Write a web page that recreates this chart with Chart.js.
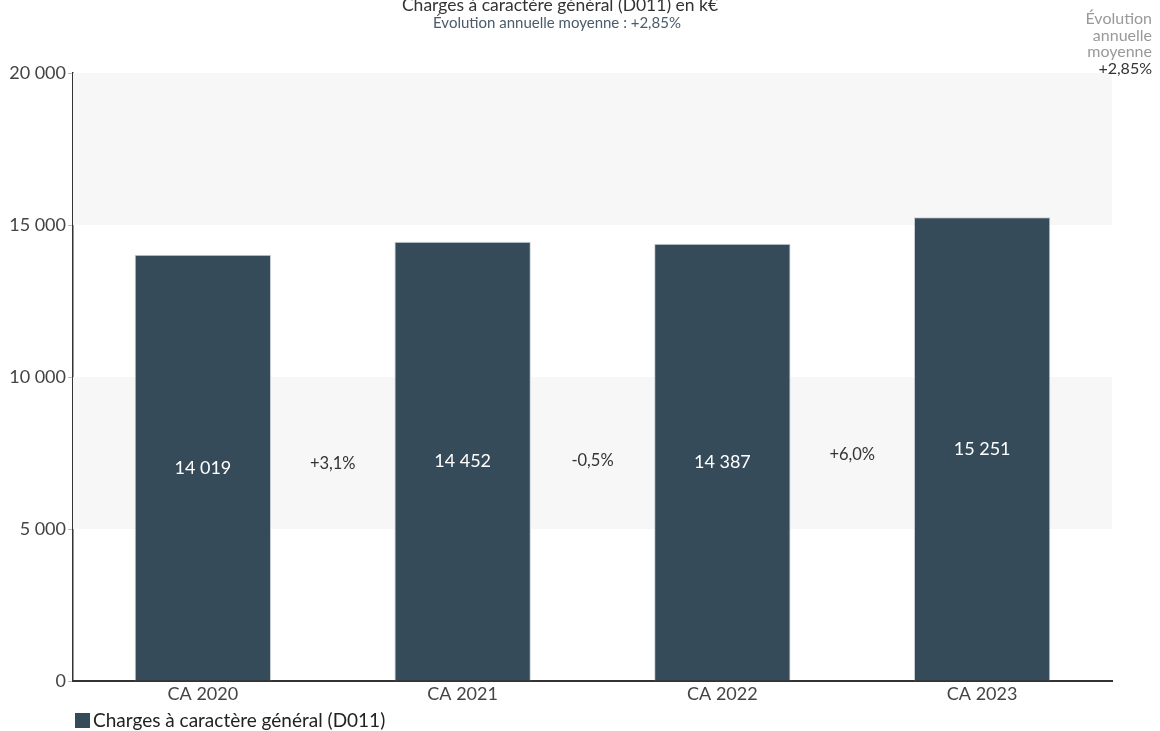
<!DOCTYPE html>
<html lang="fr">
<head>
<meta charset="utf-8">
<title>Charges à caractère général (D011)</title>
<script src="https://cdn.jsdelivr.net/npm/chart.js@4/dist/chart.umd.min.js"></script>
<style>
  html, body { margin: 0; padding: 0; background: #fff; }
  #wrap { position: relative; width: 1160px; height: 731px; }
</style>
</head>
<body>
<div id="wrap"><canvas id="chart" width="1160" height="731"></canvas></div>
<script>
// Exercices et montants (k€)
const categories = ['CA 2020', 'CA 2021', 'CA 2022', 'CA 2023'];
const seriesName = 'Charges à caractère général (D011)';
const values = [14019, 14452, 14387, 15251];
const changeLabels = ['+3,1%', '-0,5%', '+6,0%'];
const avgLabel = '+2,85%';
const yTicks = [0, 5000, 10000, 15000, 20000];

const titleText = 'Charges à caractère général (D011) en k€';
const subtitleText = 'Évolution annuelle moyenne : ' + avgLabel;
const FONT = 'Lato, "Noto Sans", sans-serif';
const BAR_COLOR = '#364b5a';

// Formatage français : espace comme séparateur de milliers
const fmtInt = v => String(Math.round(v)).replace(/\B(?=(\d{3})+(?!\d))/g, ' ');

// Bandes grises alternées derrière les barres
const bandsPlugin = {
  id: 'bands',
  beforeDatasetsDraw(chart) {
    const { ctx, chartArea: a, scales: { y } } = chart;
    ctx.save();
    ctx.fillStyle = '#f7f7f7';
    [[15000, 20000], [5000, 10000]].forEach(([lo, hi]) => {
      const top = y.getPixelForValue(hi), bot = y.getPixelForValue(lo);
      ctx.fillRect(a.left, top, a.right - a.left, bot - top);
    });
    ctx.restore();
  }
};

// Titres, étiquettes de valeurs, variations et légende
const annotPlugin = {
  id: 'annot',
  afterDraw(chart) {
    const { ctx, scales: { y } } = chart;
    const meta = chart.getDatasetMeta(0);
    ctx.save();
    ctx.textBaseline = 'middle';

    // Titre et sous-titre
    ctx.textAlign = 'center';
    ctx.fillStyle = '#333';
    ctx.font = '17.5px ' + FONT;
    ctx.fillText(titleText, 560, 5);
    ctx.fillStyle = '#4a5b6b';
    ctx.font = '15px ' + FONT;
    ctx.fillText(subtitleText, 557, 23);

    // Bloc en haut à droite
    ctx.textAlign = 'right';
    ctx.font = '16px ' + FONT;
    ctx.fillStyle = '#999';
    ['Évolution', 'annuelle', 'moyenne'].forEach((t, i) => ctx.fillText(t, 1152, 19 + i * 16.5));
    ctx.fillStyle = '#333';
    ctx.fillText(avgLabel, 1152, 69);

    // Valeurs au centre des barres
    const mids = meta.data.map((bar, i) => (y.getPixelForValue(values[i]) + y.getPixelForValue(0)) / 2);
    ctx.textAlign = 'center';
    ctx.font = '18px ' + FONT;
    ctx.fillStyle = '#fff';
    meta.data.forEach((bar, i) => ctx.fillText(fmtInt(values[i]), bar.x, mids[i]));

    // Variations entre barres
    ctx.fillStyle = '#333';
    ctx.font = '16.5px ' + FONT;
    changeLabels.forEach((lbl, i) => {
      const x = (meta.data[i].x + meta.data[i + 1].x) / 2;
      const yy = (mids[i] + mids[i + 1]) / 2 - 1;
      ctx.fillText(lbl, x, yy);
    });

    // Légende
    ctx.fillStyle = BAR_COLOR;
    ctx.fillRect(75, 713, 15, 15);
    ctx.textAlign = 'left';
    ctx.fillStyle = '#222';
    ctx.font = '19px ' + FONT;
    ctx.fillText(seriesName, 93, 721);
    ctx.restore();
  }
};

new Chart(document.getElementById('chart'), {
  type: 'bar',
  data: {
    labels: categories,
    datasets: [{
      label: seriesName,
      data: values,
      backgroundColor: BAR_COLOR,
      borderColor: 'rgba(190,200,208,0.8)',
      borderWidth: 1,
      categoryPercentage: 1,
      barPercentage: 0.525
    }]
  },
  options: {
    responsive: false,
    animation: false,
    layout: { padding: { left: 0, right: 48, top: 73, bottom: 0 } },
    plugins: {
      legend: { display: false },
      title: { display: false },
      tooltip: { enabled: false }
    },
    scales: {
      x: {
        grid: { display: false, drawTicks: false, tickLength: 0 },
        border: { display: true, color: '#333', width: 2 },
        ticks: { color: '#444', font: { family: FONT, size: 18 }, padding: 2 },
        afterFit(scale) { scale.height = 50; }
      },
      y: {
        min: 0,
        max: 20000,
        afterBuildTicks(scale) { scale.ticks = yTicks.map(v => ({ value: v })); },
        grid: { color: 'transparent', tickColor: '#bbb', tickLength: 5, drawOnChartArea: false },
        border: { display: true, color: '#333', width: 1.5 },
        ticks: {
          color: '#444',
          font: { family: FONT, size: 18 },
          padding: 2,
          callback: v => fmtInt(v)
        },
        afterFit(scale) { scale.width = 73; }
      }
    }
  },
  plugins: [bandsPlugin, annotPlugin]
});
</script>
</body>
</html>
